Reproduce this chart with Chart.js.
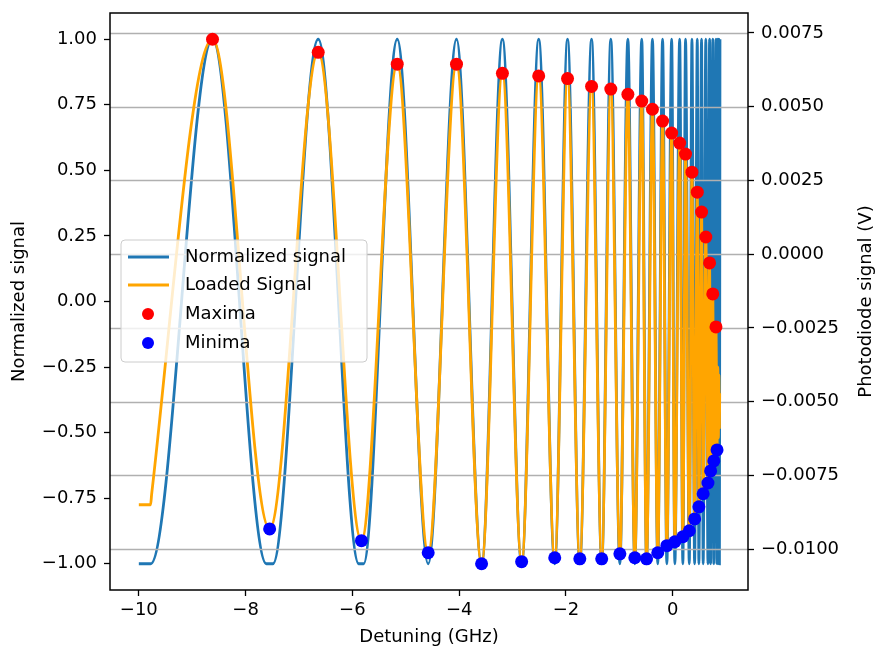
<!DOCTYPE html>
<html>
<head>
<meta charset="utf-8">
<script src="https://cdn.jsdelivr.net/npm/chart.js@4.4.1/dist/chart.umd.min.js"></script>
<style>
  html, body { margin: 0; padding: 0; background: #fff; }
</style>
</head>
<body>
<canvas id="chart" width="875" height="648"></canvas>
<script>
// valores (extremos de cada oscilación)
const normX = [-10, -9.78, -8.62, -7.61, -7.49, -6.64, -5.88, -5.79, -5.16,
  -4.58, -4.05, -3.58, -3.19, -2.83, -2.51, -2.21, -1.97, -1.74, -1.52,
  -1.33, -1.16, -0.99, -0.84, -0.71, -0.58, -0.49, -0.38, -0.28, -0.19,
  -0.11, -0.02, 0.04, 0.13, 0.19, 0.24, 0.31, 0.36, 0.41, 0.46,
  0.49, 0.54, 0.57, 0.62, 0.66, 0.69, 0.71, 0.75, 0.77, 0.81,
  0.83, 0.845, 0.855, 0.865, 0.875, 0.885];
const normY = [-1, -1, 1, -1, -1, 1, -1, -1, 1,
  -1, 1, -1, 1, -1, 1, -1, 1, -1, 1,
  -1, 1, -1, 1, -1, 1, -1, 1, -1, 1,
  -1, 1, -1, 1, -1, 1, -1, 1, -1, 1,
  -1, 1, -1, 1, -1, 1, -1, 1, -1, 1,
  -1, 1, -1, 1, -1, 1];

const loadX = [-10, -9.78, -9.76, -8.62, -7.55, -6.64, -5.83, -5.16, -4.58, -4.05,
  -3.58, -3.19, -2.83, -2.51, -2.21, -1.97, -1.74, -1.52, -1.33, -1.16,
  -0.99, -0.84, -0.71, -0.58, -0.49, -0.38, -0.28, -0.19, -0.11, -0.02,
  0.04, 0.13, 0.19, 0.24, 0.31, 0.36, 0.41, 0.46, 0.49, 0.54,
  0.57, 0.62, 0.66, 0.69, 0.71, 0.75, 0.77, 0.81, 0.83,
  0.845, 0.855, 0.865, 0.875, 0.88];
const loadY = [-0.775, -0.775, -0.735, 1.0, -0.867, 0.95, -0.912, 0.905, -0.958, 0.905,
  -1.0, 0.87, -0.992, 0.86, -0.977, 0.85, -0.981, 0.82, -0.981, 0.81,
  -0.962, 0.79, -0.977, 0.764, -0.981, 0.733, -0.958, 0.688, -0.931, 0.642,
  -0.916, 0.604, -0.897, 0.562, -0.874, 0.493, -0.829, 0.417, -0.783, 0.341,
  -0.733, 0.246, -0.692, 0.147, -0.646, 0.029, -0.608, -0.097, -0.566,
  -0.25, -0.52, -0.28, -0.48, -0.35];

const maxX = [-8.62, -6.64, -5.16, -4.05, -3.19, -2.51, -1.97, -1.52, -1.16, -0.84, -0.58, -0.38,
  -0.19, -0.02, 0.13, 0.24, 0.36, 0.46, 0.54, 0.62, 0.69, 0.75, 0.81];
const maxY = [1.0, 0.95, 0.905, 0.905, 0.87, 0.86, 0.85, 0.82, 0.81, 0.79, 0.764, 0.733,
  0.688, 0.642, 0.604, 0.562, 0.493, 0.417, 0.341, 0.246, 0.147, 0.029, -0.097];
const minX = [-7.55, -5.83, -4.58, -3.58, -2.83, -2.21, -1.74, -1.33, -0.99, -0.71, -0.49, -0.28,
  -0.11, 0.04, 0.19, 0.31, 0.41, 0.49, 0.57, 0.66, 0.71, 0.77, 0.83];
const minY = [-0.867, -0.912, -0.958, -1.0, -0.992, -0.977, -0.981, -0.981, -0.962, -0.977, -0.981, -0.958,
  -0.931, -0.916, -0.897, -0.874, -0.829, -0.783, -0.733, -0.692, -0.646, -0.608, -0.566];

const xTicks = [-10, -8, -6, -4, -2, 0];
const yTicks = [-1, -0.75, -0.5, -0.25, 0, 0.25, 0.5, 0.75, 1];
const y2Ticks = [-0.01, -0.0075, -0.005, -0.0025, 0, 0.0025, 0.005, 0.0075];

const legendItems = [
  { label: "Normalized signal", color: "#1f77b4", kind: "line" },
  { label: "Loaded Signal", color: "#ffa500", kind: "line" },
  { label: "Maxima", color: "#ff0000", kind: "dot" },
  { label: "Minima", color: "#0000ff", kind: "dot" },
];

const pares = (xs, ys) => xs.map((x, i) => ({ x: x, y: ys[i] }));
const fmt = (v, d) => v.toFixed(d).replace("-", "\u2212");

Chart.defaults.font.family = "'DejaVu Sans', sans-serif";
Chart.defaults.font.size = 18;
Chart.defaults.color = "#000";

// rejilla del eje derecho: encima de la señal normalizada, debajo del resto
const gridPlugin = {
  id: "gridEncima",
  afterDatasetDraw(chart, args) {
    if (args.index !== 0) return;
    const { ctx, chartArea: a } = chart;
    const s = chart.scales.y2;
    ctx.save();
    ctx.strokeStyle = "#b0b0b0";
    ctx.lineWidth = 1.5;
    y2Ticks.forEach(v => {
      const y = Math.round(s.getPixelForValue(v)) + 0.5;
      ctx.beginPath();
      ctx.moveTo(a.left, y);
      ctx.lineTo(a.right, y);
      ctx.stroke();
    });
    ctx.restore();
  }
};

const decoPlugin = {
  id: "deco",
  afterDraw(chart) {
    const { ctx, chartArea: a } = chart;
    ctx.save();
    // marco
    ctx.strokeStyle = "#000";
    ctx.lineWidth = 1.5;
    ctx.strokeRect(a.left, a.top, a.right - a.left, a.bottom - a.top);

    // títulos de ejes
    ctx.fillStyle = "#000";
    ctx.font = "18px 'DejaVu Sans'";
    ctx.textAlign = "center";
    ctx.textBaseline = "middle";
    const cy = (a.top + a.bottom) / 2;
    ctx.save();
    ctx.translate(19, cy);
    ctx.rotate(-Math.PI / 2);
    ctx.fillText("Normalized signal", 0, 0);
    ctx.restore();
    ctx.save();
    ctx.translate(866, cy);
    ctx.rotate(-Math.PI / 2);
    ctx.fillText("Photodiode signal (V)", 0, 0);
    ctx.restore();
    ctx.textBaseline = "alphabetic";
    ctx.fillText("Detuning (GHz)", (a.left + a.right) / 2, 642);

    // leyenda
    const bx = 121, by = 240, bw = 246, bh = 122, r = 4;
    ctx.beginPath();
    ctx.moveTo(bx + r, by);
    ctx.arcTo(bx + bw, by, bx + bw, by + bh, r);
    ctx.arcTo(bx + bw, by + bh, bx, by + bh, r);
    ctx.arcTo(bx, by + bh, bx, by, r);
    ctx.arcTo(bx, by, bx + bw, by, r);
    ctx.closePath();
    ctx.fillStyle = "rgba(255,255,255,0.8)";
    ctx.fill();
    ctx.strokeStyle = "#cccccc";
    ctx.lineWidth = 1;
    ctx.stroke();
    const filas = [257, 285, 314, 343];
    legendItems.forEach((it, i) => {
      const y = filas[i];
      if (it.kind === "line") {
        ctx.strokeStyle = it.color;
        ctx.lineWidth = 2.8;
        ctx.beginPath();
        ctx.moveTo(128, y);
        ctx.lineTo(169, y);
        ctx.stroke();
      } else {
        ctx.fillStyle = it.color;
        ctx.beginPath();
        ctx.arc(148, y, 6, 0, Math.PI * 2);
        ctx.fill();
      }
      ctx.fillStyle = "#000";
      ctx.textAlign = "left";
      ctx.textBaseline = "middle";
      ctx.fillText(it.label, 185, y);
    });
    ctx.restore();
  }
};

const ticksFijos = arr => scale => { scale.ticks = arr.map(v => ({ value: v })); };
const sinPadding = size => s => {
  if (size.w) s.width = size.w;
  if (size.h) s.height = size.h;
  s.paddingTop = 0; s.paddingBottom = 0;
  s.paddingLeft = 0; s.paddingRight = 0;
};

new Chart(document.getElementById("chart").getContext("2d"), {
  type: "line",
  data: {
    datasets: [
      {
        label: "Normalized signal",
        data: pares(normX, normY),
        borderColor: "#1f77b4",
        borderWidth: 2.8,
        pointRadius: 0,
        cubicInterpolationMode: "monotone",
        yAxisID: "y",
        order: 4
      },
      {
        label: "Loaded Signal",
        data: pares(loadX, loadY),
        borderColor: "#ffa500",
        borderWidth: 2.8,
        pointRadius: 0,
        cubicInterpolationMode: "monotone",
        yAxisID: "y",
        order: 3
      },
      {
        type: "scatter",
        label: "Maxima",
        data: pares(maxX, maxY),
        backgroundColor: "#ff0000",
        borderWidth: 0,
        pointRadius: 6.5,
        yAxisID: "y",
        order: 2
      },
      {
        type: "scatter",
        label: "Minima",
        data: pares(minX, minY),
        backgroundColor: "#0000ff",
        borderWidth: 0,
        pointRadius: 6.5,
        yAxisID: "y",
        order: 1
      }
    ]
  },
  options: {
    responsive: false,
    animation: false,
    devicePixelRatio: 1,
    layout: { padding: { top: 13, left: 0, right: 0, bottom: 0 } },
    plugins: { legend: { display: false }, tooltip: { enabled: false } },
    scales: {
      x: {
        type: "linear",
        min: -10.54, max: 1.41,
        afterBuildTicks: ticksFijos(xTicks),
        afterFit: sinPadding({ h: 58 }),
        border: { display: false },
        grid: { drawOnChartArea: false, drawTicks: true, tickLength: 6, tickColor: "#000", tickWidth: 1.3 },
        ticks: { padding: 4, maxRotation: 0, callback: v => fmt(v, 0) }
      },
      y: {
        type: "linear",
        position: "left",
        min: -1.1, max: 1.1,
        afterBuildTicks: ticksFijos(yTicks),
        afterFit: sinPadding({ w: 110 }),
        border: { display: false },
        grid: { drawOnChartArea: false, drawTicks: true, tickLength: 6, tickColor: "#000", tickWidth: 1.3 },
        ticks: { padding: 7, callback: v => fmt(v, 2) }
      },
      y2: {
        type: "linear",
        position: "right",
        min: -0.01139, max: 0.008178,
        afterBuildTicks: ticksFijos(y2Ticks),
        afterFit: sinPadding({ w: 127 }),
        border: { display: false },
        grid: { drawOnChartArea: false, drawTicks: true, tickLength: 6, tickColor: "#000", tickWidth: 1.3 },
        ticks: { padding: 7, callback: v => fmt(v, 4) }
      }
    }
  },
  plugins: [gridPlugin, decoPlugin]
});
</script>
</body>
</html>
